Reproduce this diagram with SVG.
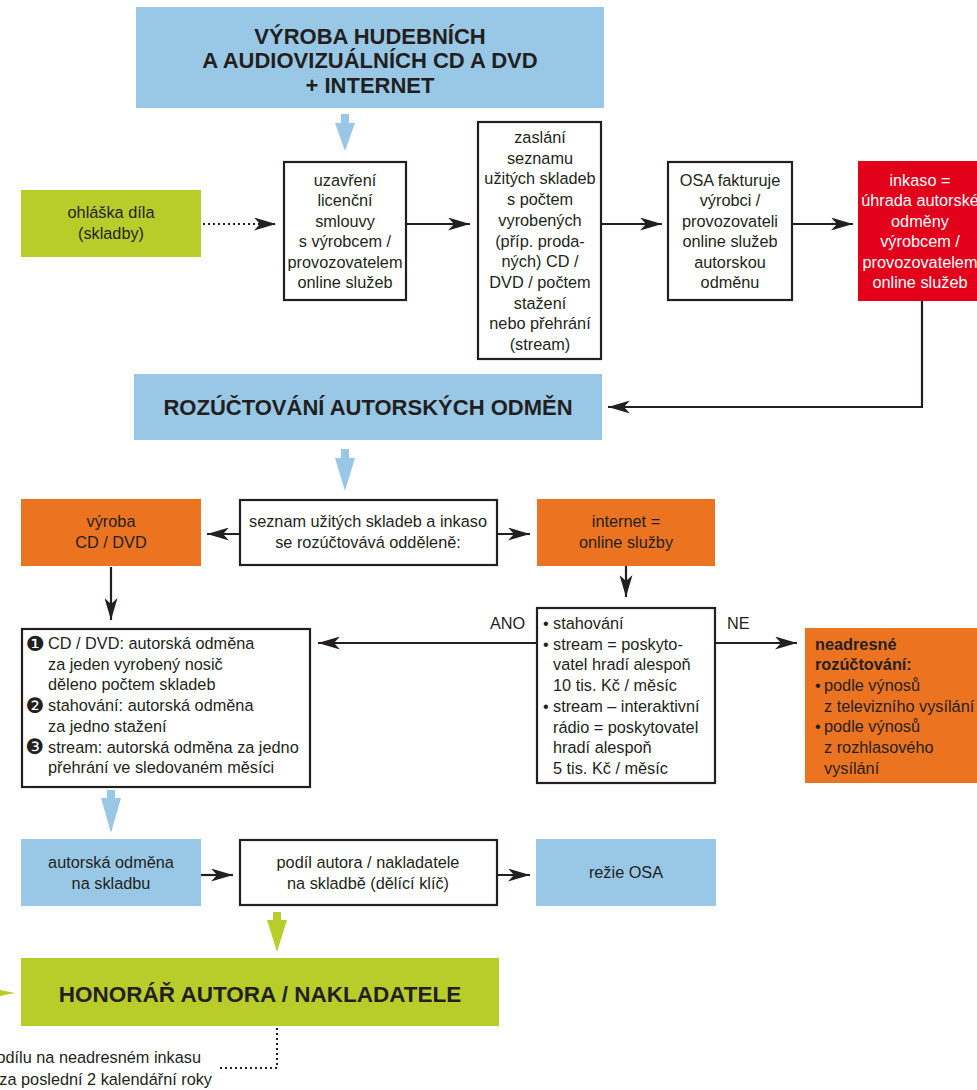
<svg xmlns="http://www.w3.org/2000/svg" width="977" height="1090" viewBox="0 0 977 1090">
<style>
.t{font-family:"Liberation Sans",Arial,sans-serif;font-size:16.3px;fill:#231f20}
.c{text-anchor:middle}
.b{font-weight:bold}
.h{font-family:"Liberation Sans",Arial,sans-serif;font-weight:bold;font-size:22px;fill:#231f20;text-anchor:middle}
.w{fill:#ffffff}
.box{fill:#ffffff;stroke:#231f20;stroke-width:2.2}
.blue{fill:#98c8e6}
.green{fill:#b8cd29}
.orange{fill:#ec7421}
.red{fill:#e2001a}
.ln{fill:none;stroke:#231f20;stroke-width:2.2}
.dot{fill:none;stroke:#231f20;stroke-width:2;stroke-dasharray:2 3}
.dg{font-family:"DejaVu Sans",sans-serif;font-size:21px;fill:#231f20;text-anchor:middle}
</style>
<defs>
<marker id="ah" viewBox="0 0 22 13" refX="22" refY="6.5" markerWidth="22" markerHeight="13" markerUnits="userSpaceOnUse" orient="auto">
<path d="M0,0 L22,6.5 L0,13 L6,6.5 Z" fill="#231f20"/>
</marker>
</defs>

<g id="connectors">
<path class="dot" d="M203,224 H276" marker-end="url(#ah)"/>
<path class="ln" d="M406,224 H470" marker-end="url(#ah)"/>
<path class="ln" d="M602,224 H662" marker-end="url(#ah)"/>
<path class="ln" d="M792,224 H853" marker-end="url(#ah)"/>
<path class="ln" d="M922,301 V407 H608" marker-end="url(#ah)"/>
<path class="ln" d="M240,534 H207" marker-end="url(#ah)"/>
<path class="ln" d="M497,534 H530" marker-end="url(#ah)"/>
<path class="ln" d="M111,567 V620" marker-end="url(#ah)"/>
<path class="ln" d="M626,566 V597" marker-end="url(#ah)"/>
<path class="ln" d="M537,643 H318" marker-end="url(#ah)"/>
<path class="ln" d="M715,643 H797" marker-end="url(#ah)"/>
<path class="ln" d="M201,875 H233" marker-end="url(#ah)"/>
<path class="ln" d="M497,875 H530" marker-end="url(#ah)"/>
<path class="dot" d="M277,1028 V1068 H218"/>
<polygon class="blue" points="341,114 349,114 349,123 355,123 345,151 335,123 341,123"/>
<polygon class="blue" points="341,449 349,449 349,458 355,458 345,491 335,458 341,458"/>
<polygon class="blue" points="107,790 115,790 115,798 121,798 111,833 101,798 107,798"/>
<polygon class="green" points="273,912 281,912 281,920 287,920 277,952 267,920 273,920"/>
<polygon class="green" points="0,990 15,993 0,996"/>
<text class="t" x="490" y="629">ANO</text>
<text class="t" x="727" y="629">NE</text>
</g>

<g id="n-title">
<rect class="blue" x="136" y="7" width="468" height="101"/>
<text class="h" x="370" y="44">VÝROBA HUDEBNÍCH</text>
<text class="h" x="370" y="68">A AUDIOVIZUÁLNÍCH CD A DVD</text>
<text class="h" x="370" y="93">+ INTERNET</text>
</g>

<g id="n-ohlaska">
<rect class="green" x="21" y="190" width="180" height="67"/>
<text class="t c" x="111" y="218">ohláška díla</text>
<text class="t c" x="111" y="239">(skladby)</text>
</g>

<g id="n-uzavreni">
<rect class="box" x="284" y="162" width="122" height="138"/>
<text class="t c" x="345" y="186">uzavření</text>
<text class="t c" x="345" y="206.4">licenční</text>
<text class="t c" x="345" y="226.8">smlouvy</text>
<text class="t c" x="345" y="247.2">s výrobcem /</text>
<text class="t c" x="345" y="267.6">provozovatelem</text>
<text class="t c" x="345" y="288">online služeb</text>
</g>

<g id="n-zaslani">
<rect class="box" x="478" y="122" width="123" height="237"/>
<text class="t c" x="540" y="143">zaslání</text>
<text class="t c" x="540" y="163.7">seznamu</text>
<text class="t c" x="540" y="184.4">užitých skladeb</text>
<text class="t c" x="540" y="205.1">s počtem</text>
<text class="t c" x="540" y="225.8">vyrobených</text>
<text class="t c" x="540" y="246.5">(příp. proda-</text>
<text class="t c" x="540" y="267.2">ných) CD /</text>
<text class="t c" x="540" y="287.9">DVD / počtem</text>
<text class="t c" x="540" y="308.6">stažení</text>
<text class="t c" x="540" y="329.3">nebo přehrání</text>
<text class="t c" x="540" y="350">(stream)</text>
</g>

<g id="n-osa">
<rect class="box" x="668" y="162" width="124" height="138"/>
<text class="t c" x="730" y="186">OSA fakturuje</text>
<text class="t c" x="730" y="206.4">výrobci /</text>
<text class="t c" x="730" y="226.8">provozovateli</text>
<text class="t c" x="730" y="247.2">online služeb</text>
<text class="t c" x="730" y="267.6">autorskou</text>
<text class="t c" x="730" y="288">odměnu</text>
</g>

<g id="n-inkaso">
<rect class="red" x="858" y="161" width="124" height="140"/>
<text class="t c w" x="920" y="186">inkaso =</text>
<text class="t c w" x="920" y="206.4">úhrada autorské</text>
<text class="t c w" x="920" y="226.8">odměny</text>
<text class="t c w" x="920" y="247.2">výrobcem /</text>
<text class="t c w" x="920" y="267.6">provozovatelem</text>
<text class="t c w" x="920" y="288">online služeb</text>
</g>

<g id="n-rozuctovani">
<rect class="blue" x="134" y="374" width="468" height="66"/>
<text class="h" x="368" y="415">ROZÚČTOVÁNÍ AUTORSKÝCH ODMĚN</text>
</g>

<g id="n-vyroba">
<rect class="orange" x="21" y="499" width="180" height="67"/>
<text class="t c" x="111" y="527">výroba</text>
<text class="t c" x="111" y="547.5">CD / DVD</text>
</g>

<g id="n-seznam">
<rect class="box" x="240" y="500" width="257" height="65"/>
<text class="t c" x="368" y="527">seznam užitých skladeb a inkaso</text>
<text class="t c" x="368" y="547.5">se rozúčtovává odděleně:</text>
</g>

<g id="n-internet">
<rect class="orange" x="537" y="499" width="178" height="67"/>
<text class="t c" x="626" y="527">internet =</text>
<text class="t c" x="626" y="547.5">online služby</text>
</g>

<g id="n-odmeny">
<rect class="box" x="22" y="629" width="288" height="158"/>
<text class="dg" x="35" y="650.5">❶</text>
<text class="t" x="48" y="649">CD / DVD: autorská odměna</text>
<text class="t" x="48" y="669.7">za jeden vyrobený nosič</text>
<text class="t" x="48" y="690.4">děleno počtem skladeb</text>
<text class="dg" x="35" y="712.6">❷</text>
<text class="t" x="48" y="711.1">stahování: autorská odměna</text>
<text class="t" x="48" y="731.8">za jedno stažení</text>
<text class="dg" x="35" y="754">❸</text>
<text class="t" x="48" y="752.5">stream: autorská odměna za jedno</text>
<text class="t" x="48" y="773.2">přehrání ve sledovaném měsíci</text>
</g>

<g id="n-podminky">
<rect class="box" x="537" y="608" width="178" height="175"/>
<text class="t" x="543" y="629">•</text>
<text class="t" x="553" y="629">stahování</text>
<text class="t" x="543" y="649.7">•</text>
<text class="t" x="553" y="649.7">stream = poskyto-</text>
<text class="t" x="553" y="670.4">vatel hradí alespoň</text>
<text class="t" x="553" y="691.1">10 tis. Kč / měsíc</text>
<text class="t" x="543" y="711.8">•</text>
<text class="t" x="553" y="711.8">stream – interaktivní</text>
<text class="t" x="553" y="732.5">rádio = poskytovatel</text>
<text class="t" x="553" y="753.2">hradí alespoň</text>
<text class="t" x="553" y="773.9">5 tis. Kč / měsíc</text>
</g>

<g id="n-neadresne">
<rect class="orange" x="805" y="628" width="177" height="155"/>
<text class="t b" x="815" y="649.5">neadresné</text>
<text class="t b" x="815" y="670.2">rozúčtování:</text>
<text class="t" x="815" y="690.9">•</text>
<text class="t" x="824" y="690.9">podle výnosů</text>
<text class="t" x="824" y="711.6">z televizního vysílání</text>
<text class="t" x="815" y="732.3">•</text>
<text class="t" x="824" y="732.3">podle výnosů</text>
<text class="t" x="824" y="753">z rozhlasového</text>
<text class="t" x="824" y="773.7">vysílání</text>
</g>

<g id="n-odmena-skladba">
<rect class="blue" x="21" y="839" width="180" height="67"/>
<text class="t c" x="111" y="868">autorská odměna</text>
<text class="t c" x="111" y="888.5">na skladbu</text>
</g>

<g id="n-podil">
<rect class="box" x="240" y="840" width="257" height="65"/>
<text class="t c" x="368" y="868">podíl autora / nakladatele</text>
<text class="t c" x="368" y="888.5">na skladbě (dělící klíč)</text>
</g>

<g id="n-rezie">
<rect class="blue" x="536" y="839" width="180" height="67"/>
<text class="t c" x="626" y="878">režie OSA</text>
</g>

<g id="n-honorar">
<rect class="green" x="21" y="958" width="478" height="68"/>
<text class="h" x="260" y="1002" style="font-size:22.5px">HONORÁŘ AUTORA / NAKLADATELE</text>
</g>

<g id="n-poznamka">
<text class="t" x="201" y="1063" text-anchor="end">podílu na neadresném inkasu</text>
<text class="t" x="212" y="1084.5" text-anchor="end">za poslední 2 kalendářní roky</text>
</g>
</svg>
